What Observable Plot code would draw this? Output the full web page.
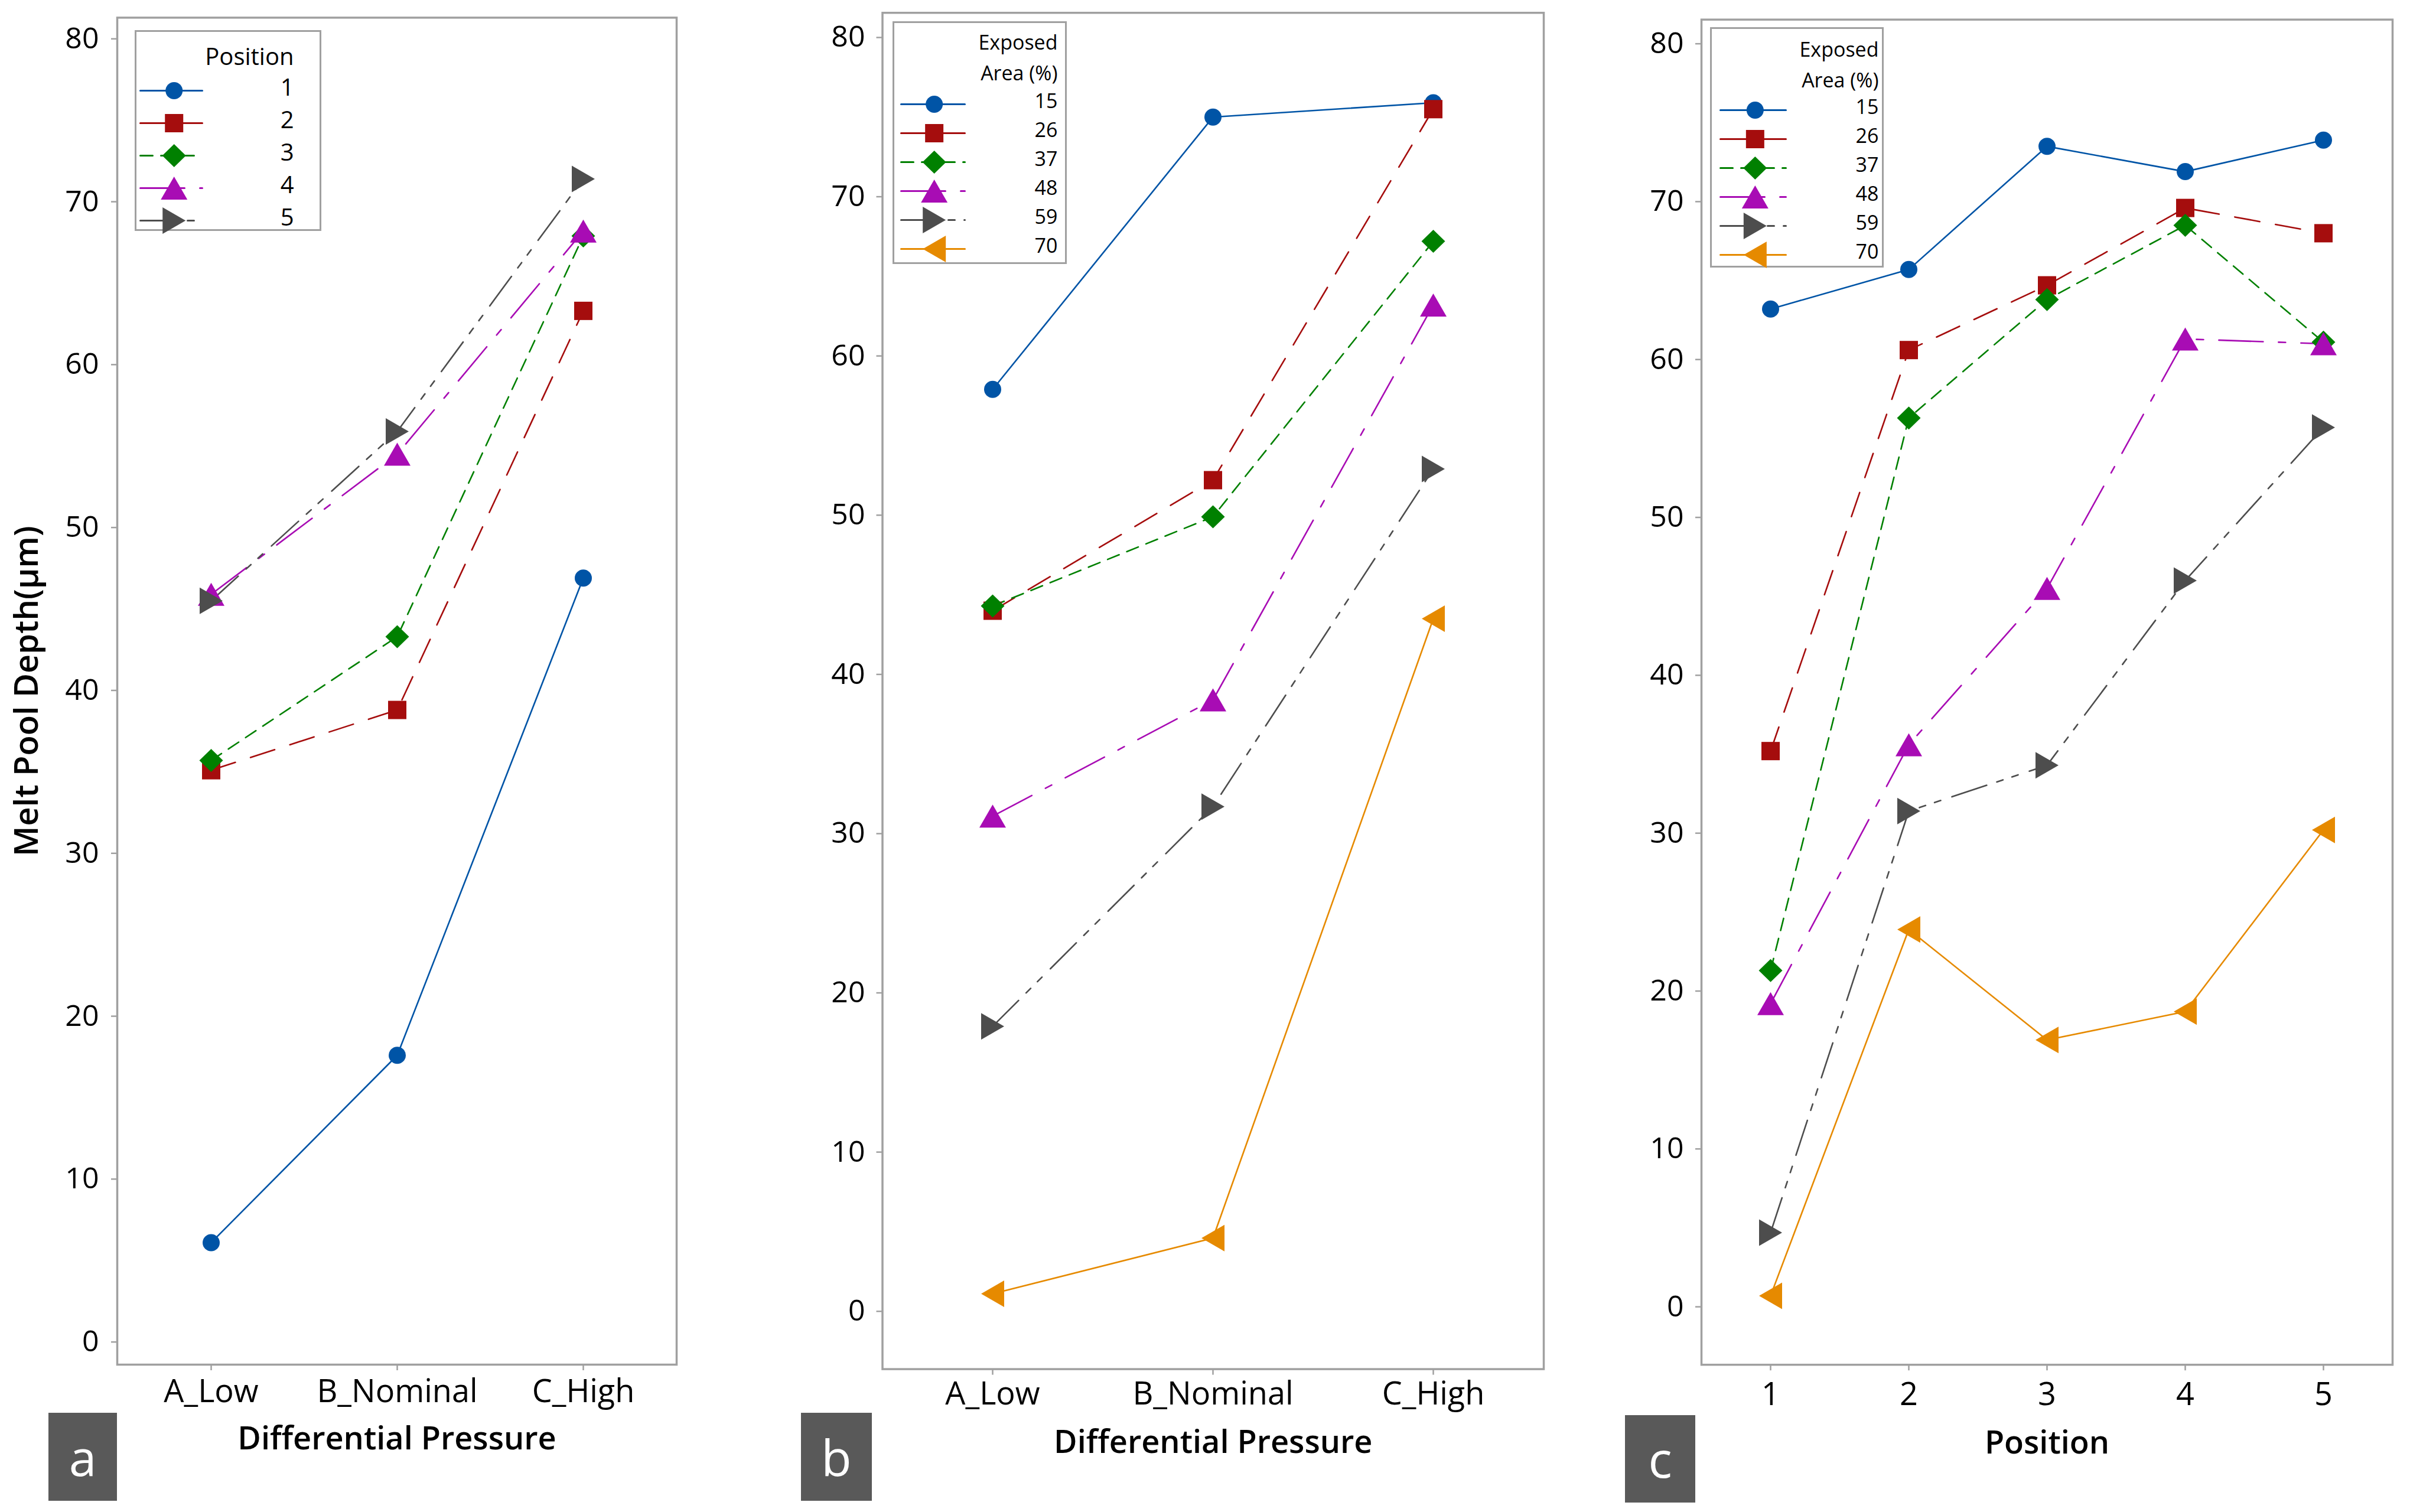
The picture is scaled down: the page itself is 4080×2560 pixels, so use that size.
<!DOCTYPE html>
<html><head><meta charset="utf-8">
<script src="https://cdn.jsdelivr.net/npm/d3@7"></script>
<script src="https://cdn.jsdelivr.net/npm/@observablehq/plot@0.6"></script>
<style>
html,body{margin:0;padding:0;background:#fff;}
#root{position:relative;width:4080px;height:2560px;overflow:hidden;background:#fff;font-family:"Open Sans",sans-serif;}
.abs{position:absolute;}
.tag{position:absolute;background:#595959;color:#fff;font-size:84px;font-family:"Open Sans",sans-serif;display:flex;align-items:center;justify-content:center;line-height:1;}
</style></head><body><div id="root"></div>
<script>
// ---------------- DATA ----------------
const pressureLevels = ["A_Low", "B_Nominal", "C_High"];
const positionLevels = [1, 2, 3, 4, 5];
const areaLevels = [15, 26, 37, 48, 59, 70];
const yTicks = [0, 10, 20, 30, 40, 50, 60, 70, 80];

// Panel a: melt pool depth vs differential pressure, one series per position
const a_pos1 = [6.1, 17.6, 46.9];
const a_pos2 = [35.1, 38.8, 63.3];
const a_pos3 = [35.7, 43.3, 67.9];
const a_pos4 = [45.9, 54.5, 68.2];
const a_pos5 = [45.5, 55.9, 71.4];

// Panel b: melt pool depth vs differential pressure, one series per exposed area
const b_area15 = [57.9, 75.0, 75.9];
const b_area26 = [44.0, 52.2, 75.5];
const b_area37 = [44.3, 49.9, 67.2];
const b_area48 = [31.1, 38.4, 63.2];
const b_area59 = [17.9, 31.7, 52.9];
const b_area70 = [1.1, 4.6, 43.5];

// Panel c: melt pool depth vs position, one series per exposed area
const c_area15 = [63.2, 65.7, 73.5, 71.9, 73.9];
const c_area26 = [35.2, 60.6, 64.7, 69.6, 68.0];
const c_area37 = [21.3, 56.3, 63.8, 68.5, 61.1];
const c_area48 = [19.2, 35.6, 45.5, 61.3, 61.0];
const c_area59 = [4.7, 31.4, 34.3, 46.0, 55.7];
const c_area70 = [0.7, 23.9, 16.9, 18.7, 30.2];

// ---------------- STYLES ----------------
const FRAME = "#a0a0a0";
function sym(fn) { return {draw(ctx, size) { fn(ctx, Math.sqrt(size / Math.PI) / 10); }}; }
const symCircle = sym((c, k) => { const r = 14.5 * k; c.moveTo(r, 0); c.arc(0, 0, r, 0, 2 * Math.PI); c.closePath(); });
const symSquare = sym((c, k) => { const a = 15.5 * k; c.moveTo(-a, -a); c.lineTo(a, -a); c.lineTo(a, a); c.lineTo(-a, a); c.closePath(); });
const symDiamond = sym((c, k) => { const w = 20 * k, h = 19.5 * k; c.moveTo(0, -h); c.lineTo(w, 0); c.lineTo(0, h); c.lineTo(-w, 0); c.closePath(); });
const symTriUp = sym((c, k) => { const s = 45 * k, h = 39 * k; c.moveTo(0, -h / 2); c.lineTo(s / 2, h / 2); c.lineTo(-s / 2, h / 2); c.closePath(); });
const symTriRight = sym((c, k) => { const s = 45 * k, h = 39 * k; c.moveTo(h / 2, 0); c.lineTo(-h / 2, s / 2); c.lineTo(-h / 2, -s / 2); c.closePath(); });
const symTriLeft = sym((c, k) => { const s = 45 * k, h = 39 * k; c.moveTo(-h / 2, 0); c.lineTo(h / 2, -s / 2); c.lineTo(h / 2, s / 2); c.closePath(); });

const seriesStyles = [
  {color: "#0054A6", dash: null, symbol: symCircle},
  {color: "#A50D0D", dash: "43 27", symbol: symSquare},
  {color: "#008000", dash: "21 14", symbol: symDiamond},
  {color: "#A80CB4", dash: "75 26 12 26", symbol: symTriUp},
  {color: "#4D4D4D", dash: "62 18 11 16 11 20", symbol: symTriRight},
  {color: "#E68A00", dash: null, symbol: symTriLeft}
];
const LINE_W = 2.6;
const FONT = "Open Sans";

const root = document.getElementById("root");

function place(node, left, top) {
  const wrap = document.createElement("div");
  wrap.className = "abs";
  wrap.style.left = left + "px";
  wrap.style.top = top + "px";
  wrap.appendChild(node);
  root.appendChild(wrap);
}

function makePanel(cfg) {
  const rows = [];
  cfg.series.forEach((vals, i) => vals.forEach((v, j) => rows.push({x: cfg.xDomain[j], y: v, s: i})));
  const marks = [Plot.frame({stroke: FRAME, strokeWidth: 3.5})];
  marks.push(Plot.axisY({ticks: yTicks, tickSize: 10, tickPadding: cfg.yPad, fontSize: 50, stroke: FRAME, strokeWidth: 2.5, color: "#000", label: null, tickFormat: d => String(d)}));
  marks.push(Plot.axisX({tickSize: 10, tickPadding: cfg.xPad, fontSize: 54, stroke: FRAME, strokeWidth: 2.5, color: "#000", label: null, tickFormat: d => String(d)}));
  cfg.series.forEach((vals, i) => {
    const st = seriesStyles[i];
    const opts = {x: "x", y: "y", stroke: st.color, strokeWidth: LINE_W};
    if (st.dash) opts.strokeDasharray = st.dash;
    marks.push(Plot.line(rows.filter(r => r.s === i), opts));
  });
  cfg.series.forEach((vals, i) => {
    const st = seriesStyles[i];
    marks.push(Plot.dot(rows.filter(r => r.s === i), {x: "x", y: "y", fill: st.color, stroke: "none", symbol: st.symbol, r: 10}));
  });
  marks.push(Plot.text([cfg.xLabel], {text: d => d, frameAnchor: "bottom", dy: cfg.xLabelDy, lineAnchor: "bottom", textAnchor: "middle", fontSize: 54, fontWeight: 600, fill: "#000"}));
  if (cfg.yLabel) {
    marks.push(Plot.text([cfg.yLabel], {text: d => d, frameAnchor: "left", dx: cfg.yLabelDx, rotate: -90, lineAnchor: "bottom", textAnchor: "middle", fontSize: 56, fontWeight: 600, fill: "#000"}));
  }
  const svg = Plot.plot({
    width: cfg.width, height: 2560,
    marginLeft: cfg.mL, marginRight: cfg.mR, marginTop: cfg.mT, marginBottom: cfg.mB,
    x: {type: "point", domain: cfg.xDomain, padding: 0.5},
    y: {domain: cfg.yDomain},
    marks,
    style: {fontFamily: FONT, background: "transparent", overflow: "visible", color: "#000"}
  });
  place(svg, cfg.left, 0);
}

function makeLegend(cfg) {
  const pad = 2;
  const W = cfg.boxRight - cfg.boxLeft, H = cfg.boxBottom - cfg.boxTop;
  const labels = cfg.labels.map(String);
  const marks = [Plot.frame({stroke: FRAME, strokeWidth: 3})];
  labels.forEach((l, i) => {
    const st = seriesStyles[i];
    const opts = {x: "t", y: "l", stroke: st.color, strokeWidth: 3};
    if (st.dash) opts.strokeDasharray = st.dash;
    marks.push(Plot.line([{t: 0, l}, {t: 1, l}], opts));
    marks.push(Plot.dot([{t: cfg.markerFrac, l}], {x: "t", y: "l", fill: st.color, stroke: "none", symbol: st.symbol, r: 10}));
  });
  marks.push(Plot.text(labels, {y: d => d, text: d => d, frameAnchor: "right", dx: -(cfg.boxRight - cfg.labelRight), dy: -4, textAnchor: "end", fontSize: cfg.labelSize, fill: "#000"}));
  cfg.title.forEach((t, i) => {
    marks.push(Plot.text([t], {text: d => d, frameAnchor: "top-right", dx: -(cfg.boxRight - cfg.labelRight), dy: cfg.titleBaselines[i] - cfg.boxTop, lineAnchor: "bottom", textAnchor: "end", fontSize: cfg.titleSize, fill: "#000"}));
  });
  const svg = Plot.plot({
    width: W + 2 * pad, height: H + 2 * pad, margin: pad,
    x: {domain: [0, 1], range: [cfg.lineStart - cfg.boxLeft + pad, cfg.lineEnd - cfg.boxLeft + pad], axis: null},
    y: {type: "point", domain: labels, padding: 0, range: [cfg.rowFirst - cfg.boxTop + pad, cfg.rowLast - cfg.boxTop + pad], axis: null},
    marks,
    style: {fontFamily: FONT, background: "#fff", overflow: "visible", color: "#000"}
  });
  place(svg, cfg.boxLeft - pad, cfg.boxTop - pad);
}

function makeTag(letter, left, top, w, h) {
  const d = document.createElement("div");
  d.className = "tag";
  d.style.left = left + "px"; d.style.top = top + "px";
  d.style.width = w + "px"; d.style.height = h + "px";
  d.textContent = letter;
  root.appendChild(d);
}

// ---------------- PANELS ----------------
makePanel({
  left: 0, width: 1160, mL: 198, mR: 15, mT: 29.4, mB: 250,
  xDomain: pressureLevels, yDomain: [-1.39, 81.3],
  series: [a_pos1, a_pos2, a_pos3, a_pos4, a_pos5],
  yPad: 21, xPad: 15.5, xLabel: "Differential Pressure", xLabelDy: 143,
  yLabel: "Melt Pool Depth(μm)", yLabelDx: -135
});
makePanel({
  left: 1340, width: 1288, mL: 153.5, mR: 15, mT: 21.2, mB: 242.4,
  xDomain: pressureLevels, yDomain: [-3.63, 81.55],
  series: [b_area15, b_area26, b_area37, b_area48, b_area59, b_area70],
  yPad: 19.5, xPad: 12, xLabel: "Differential Pressure", xLabelDy: 142
});
makePanel({
  left: 2720, width: 1360, mL: 160, mR: 30, mT: 32.7, mB: 249.8,
  xDomain: positionLevels, yDomain: [-3.67, 81.53],
  series: [c_area15, c_area26, c_area37, c_area48, c_area59, c_area70],
  yPad: 20, xPad: 19.5, xLabel: "Position", xLabelDy: 150
});

// ---------------- LEGENDS ----------------
makeLegend({
  boxLeft: 229, boxTop: 52, boxRight: 542, boxBottom: 389,
  lineStart: 237, lineEnd: 342, markerFrac: 0.545, labelRight: 497,
  title: ["Position"], titleBaselines: [109], titleSize: 40,
  rowFirst: 153, rowLast: 373, labels: positionLevels, labelSize: 40
});
makeLegend({
  boxLeft: 1512, boxTop: 37, boxRight: 1804, boxBottom: 445,
  lineStart: 1525, lineEnd: 1633, markerFrac: 0.52, labelRight: 1790,
  title: ["Exposed", "Area (%)"], titleBaselines: [83, 135], titleSize: 34,
  rowFirst: 175, rowLast: 422, labels: areaLevels, labelSize: 34
});
makeLegend({
  boxLeft: 2896, boxTop: 47, boxRight: 3187, boxBottom: 451,
  lineStart: 2912, lineEnd: 3023, markerFrac: 0.53, labelRight: 3180,
  title: ["Exposed", "Area (%)"], titleBaselines: [95.5, 147], titleSize: 34,
  rowFirst: 185, rowLast: 431, labels: areaLevels, labelSize: 34
});

// ---------------- PANEL TAGS ----------------
makeTag("a", 82, 2392, 116, 149);
makeTag("b", 1356, 2392, 120, 149);
makeTag("c", 2751, 2396, 119, 148);
</script></body></html>
